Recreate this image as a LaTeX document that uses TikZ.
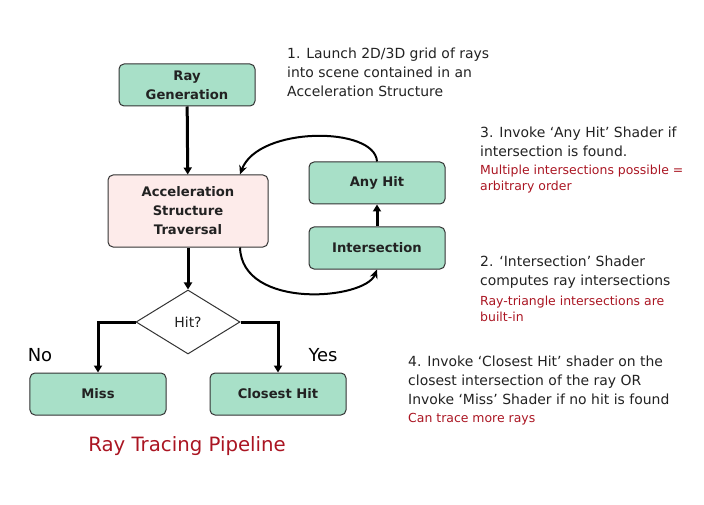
\documentclass[tikz,border=0pt]{standalone}
\usepackage{fontspec}
\setmainfont{DejaVu Sans}
\usetikzlibrary{arrows.meta, positioning, shapes.geometric}
\definecolor{gruen}{HTML}{A8E0C8}
\definecolor{rosa}{HTML}{FDEBEA}
\definecolor{rand}{HTML}{333333}
\definecolor{rot}{HTML}{AA1522}
\definecolor{schrift}{HTML}{222222}

\tikzset{
  stufe/.style={draw=rand, fill=gruen, line width=1bp, rounded corners=5bp,
    minimum width=136bp, minimum height=42bp, align=center, text=schrift,
    font=\bfseries\fontsize{13.2}{19}\selectfont},
  notiz/.style={anchor=north west, inner sep=0pt, align=left, text=schrift,
    font=\fontsize{14}{18.8}\selectfont},
  rotnotiz/.style={anchor=north west, inner sep=0pt, align=left, text=rot,
    font=\fontsize{12.5}{16}\selectfont},
  fluss/.style={line width=3bp, -{Triangle[length=7bp, width=8bp]}},
  bogen/.style={line width=2bp, -{Stealth[length=9bp, width=8bp]}}
}

\begin{document}
\begin{tikzpicture}[x=1bp, y=1bp]
  \useasboundingbox (0,0) rectangle (704,-505);

  % Kaesten
  \node[stufe] (raygen) at (187,-85) {Ray\\Generation};
  \node[stufe, fill=rosa, minimum width=160bp, minimum height=72bp]
    (accel) at (188,-211) {Acceleration\\Structure\\Traversal};
  \node[stufe] (anyhit) at (377,-183) {Any Hit};
  \node[stufe] (isect) at (377,-248) {Intersection};
  \node[draw=rand, fill=white, line width=1bp, diamond, aspect=1.625,
    minimum width=104bp, minimum height=64bp, inner sep=0pt,
    font=\fontsize{14}{16}\selectfont, text=schrift] (hit) at (188,-322) {Hit?};
  \node[stufe] (miss) at (98,-394) {Miss};
  \node[stufe] (closest) at (278,-394) {Closest Hit};

  % Pfeile
  \draw[fluss] (raygen) -- (accel);
  \draw[fluss] (accel) -- (hit);
  \draw[fluss] (hit.west) -| (miss.north);
  \draw[fluss] (hit.east) -| (closest.north);
  \draw[fluss] (isect) -- (anyhit);
  \draw[bogen] (anyhit.north) .. controls (375,-126) and (258,-126) ..
    ([xshift=52bp]accel.north);
  \draw[bogen] ([xshift=52bp]accel.south) .. controls (242,-310) and (365,-300) ..
    (isect.south);

  % Beschriftung
  \node[font=\fontsize{18}{20}\selectfont, text=black] (nein) at (40,-355) {No};
  \node[font=\fontsize{18}{20}\selectfont, text=black] (ja) at (323,-355) {Yes};
  \node[text=rot, font=\fontsize{19.8}{22}\selectfont] (titel) at (187,-446)
    {Ray Tracing Pipeline};

  % Erklaerungen
  \node[notiz] (n1) at (287,-48)
    {1. Launch 2D/3D grid of rays\\into scene contained in an\\Acceleration Structure};
  \node[notiz] (n3) at (480,-127)
    {3. Invoke ‘Any Hit’ Shader if\\intersection is found.};
  \node[rotnotiz, below=8bp of n3.south west, anchor=north west] (r3)
    {Multiple intersections possible =\\arbitrary order};
  \node[notiz] (n2) at (480,-256)
    {2. ‘Intersection’ Shader\\computes ray intersections};
  \node[rotnotiz, below=7bp of n2.south west, anchor=north west] (r2)
    {Ray-triangle intersections are\\built-in};
  \node[notiz] (n4) at (408,-356)
    {4. Invoke ‘Closest Hit’ shader on the\\closest intersection of the ray OR\\Invoke ‘Miss’ Shader if no hit is found};
  \node[rotnotiz, below=8bp of n4.south west, anchor=north west] (r4)
    {Can trace more rays};
\end{tikzpicture}
\end{document}
